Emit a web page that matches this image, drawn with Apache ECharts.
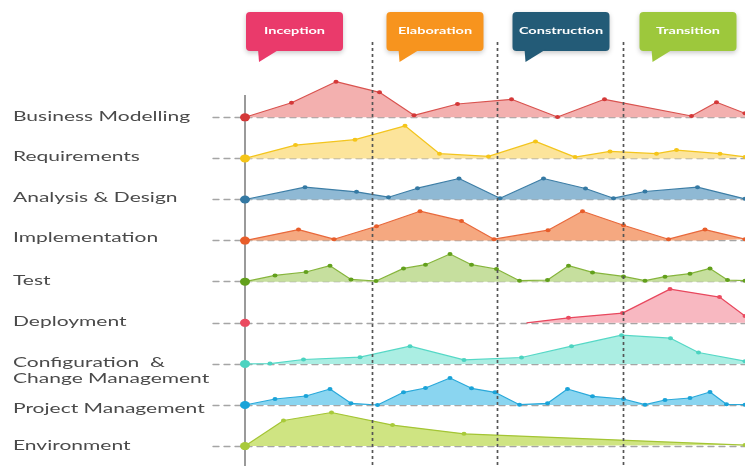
<!DOCTYPE html>
<html><head><meta charset="utf-8">
<script src="https://cdn.jsdelivr.net/npm/echarts@6/dist/echarts.min.js"></script>
<style>html,body{margin:0;padding:0;background:#fff}#c{width:745px;height:466px}</style>
</head><body><div id="c"></div>
<script>
// ---------- data ----------
const activities = ['Business Modelling','Requirements','Analysis & Design','Implementation','Test','Deployment','Configuration  &\nChange Management','Project Management','Environment'];
const phases = ['Inception','Elaboration','Construction','Transition'];
const phaseBounds = [25.5, 50.5, 75.7];
const phaseLabelStart = [0.2, 28.3, 53.5, 78.9];

const businessModelling = [[0,0],[9.3,14.6],[18.2,35.6],[26.9,25],[33.8,2],[42.5,13.3],[53.3,18],[62.5,0.3],[71.9,18],[89.3,1.3],[94.3,15],[100,4]];
const requirements = [[0,0],[10.1,13.3],[22,18.7],[32,32.6],[38.9,4.7],[48.7,2],[58.1,17],[66,1.3],[73,7],[82.3,4.7],[86.3,8.3],[95,4.7],[100,1.5]];
const analysisDesign = [[0,0],[12,12.3],[22.3,7.7],[28.7,2.3],[34.5,11.3],[42.8,21],[51,1.3],[59.7,21],[68.1,11],[73.7,1.3],[80,8],[90.5,12.3],[100,0.7]];
const implementation = [[0,0],[10.7,11],[17.8,1.4],[26.3,14.4],[35,29.4],[43.3,19.7],[49.8,1.4],[60.6,10.4],[67.5,29.4],[75.7,15.4],[84.7,1.4],[92,11],[100,1.4]];
const test = [[0,0],[6,6.3],[12.2,9.7],[17,16],[21.2,2.3],[26.2,0.7],[31.7,13.3],[36.1,17],[41,27.7],[45.3,17],[50.3,12.7],[54.9,1],[60.5,1.7],[64.7,16],[69.5,9.3],[75.7,5.3],[80,1],[84,5],[89,8],[93,13.3],[96.5,1.7],[100,1]];
const deployment = [[0,0],[28,'-'],[56.3,0],[64.7,5],[75.5,9.7],[85,33.7],[94.9,25.7],[100,6.7]];
const configuration = [[0,0],[5,0.3],[11.7,4.4],[23,6.7],[33,17.7],[43.8,4],[55.3,6.4],[65.3,17.7],[75.3,28.7],[85.1,25.7],[90.7,11.4],[100,2.7]];
const projectManagement = [[0,0],[6,6],[12.2,9],[17,16],[21.2,1.7],[26.5,0],[31.7,12.7],[36.1,17],[41,27],[45.3,16.7],[50,12.7],[54.9,0.3],[60.5,1.7],[64.5,16],[69.5,8.7],[75.7,6],[80,0.3],[84,5],[89,7],[93,13],[96.3,0.7],[100,0.3]];
const environment = [[0,0],[7.7,25.6],[17.3,33.6],[29.5,21],[43.8,12.3],[100,1]];

const seriesData = [businessModelling, requirements, analysisDesign, implementation, test, deployment, configuration, projectManagement, environment];

// ---------- styles ----------
const lineColors   = ['#D9534F','#F3C51E','#3D7EA6','#E8693C','#86B53C','#E8485E','#55D8C6','#2AA9DA','#A4C534'];
const markerColors = ['#D43838','#F5C518','#3479A3','#E85D2A','#62A01C','#EB4A5F','#4CD3C0','#1AA3D8','#A8CA3A'];
const fillColors   = ['#F3B0AF','#FCE49B','#8FB9D4','#F5A880','#C6DF9E','#F8B8C1','#ABEEE3','#8AD5F0','#CFE482'];
const phaseColors  = ['#EA3A6B','#F7941E','#235B77','#9DC83C'];
const labelOffsets = [-1,-2,-2,-3,-1,-1.4,-1.4,3,-0.5];

const base0 = 117.3, step = 41.1, bandH = 40;
const xMin = -6.4, xMax = 100;

const grids = [], xAxes = [], yAxes = [], series = [];
seriesData.forEach((d, i) => {
  const base = base0 + step * i;
  grids.push({left: 213, right: 0, top: base - bandH, height: bandH});
  xAxes.push({type: 'value', gridIndex: i, min: xMin, max: xMax, show: true,
    axisLine: {show: true, lineStyle: {color: '#a5a5a5', width: 1.3, type: [6, 5]}},
    axisTick: {show: false}, axisLabel: {show: false}, splitLine: {show: false}});
  yAxes.push({type: 'value', gridIndex: i, min: 0, max: bandH, show: false, splitLine: {show: false}});
  series.push({
    type: 'line', name: activities[i], xAxisIndex: i, yAxisIndex: i,
    data: d.map((p, j) => {
      if (j === 0) return {value: p, symbolSize: [10, 8]};
      if (i === 5 && j === 2) return {value: p, symbolSize: 0};
      return p;
    }),
    symbol: 'circle', symbolSize: [5, 4], showSymbol: true, connectNulls: false,
    lineStyle: {color: lineColors[i], width: 1.2},
    itemStyle: {color: markerColors[i]},
    areaStyle: {color: fillColors[i], opacity: 1},
    clip: false, z: 2, animation: false, silent: true
  });
});

const chart = echarts.init(document.getElementById('c'), null, {renderer: 'canvas'});
chart.setOption({animation: false, grid: grids, xAxis: xAxes, yAxis: yAxes, series: series});

// ---------- annotations derived from axes ----------
const px = v => chart.convertToPixel({gridIndex: 0}, [v, 0])[0];
const graphics = [];
const axisX = px(0);
graphics.push({type: 'line', z: 1, shape: {x1: axisX, y1: 95, x2: axisX, y2: 466},
  style: {stroke: '#9a9a9a', lineWidth: 2}});
phaseBounds.forEach(b => {
  const x = px(b);
  graphics.push({type: 'line', z: 10, shape: {x1: x, y1: 42, x2: x, y2: 466},
    style: {stroke: '#555', lineWidth: 1.7, lineDash: [3, 3]}});
});
phases.forEach((p, k) => {
  const left = px(phaseLabelStart[k]);
  graphics.push({type: 'group', x: left, y: 12, z: 20, children: [
    {type: 'rect', shape: {x: 0, y: 0, width: 97, height: 39, r: 4},
      style: {fill: phaseColors[k], shadowBlur: 5, shadowColor: 'rgba(0,0,0,0.22)', shadowOffsetY: 2}},
    {type: 'polygon', shape: {points: [[12, 37], [34, 37], [13, 50]]},
      style: {fill: phaseColors[k]}},
    {type: 'text', x: 48.5, y: 19, scaleX: 1.45,
      style: {text: p, fill: '#fff', font: 'bold 10px Lato', align: 'center', verticalAlign: 'middle'}}
  ]});
});
activities.forEach((a, i) => {
  const y = chart.convertToPixel({gridIndex: i}, [0, 0])[1] + labelOffsets[i];
  a.split('\n').forEach((line, li) => {
    graphics.push({type: 'text', x: 13, y: y + li * 15.5, scaleX: 1.5, z: 20,
      style: {text: line, fill: '#4a4a4a', font: '14px Lato', align: 'left', verticalAlign: 'middle'}});
  });
});
chart.setOption({graphic: graphics});
</script></body></html>
